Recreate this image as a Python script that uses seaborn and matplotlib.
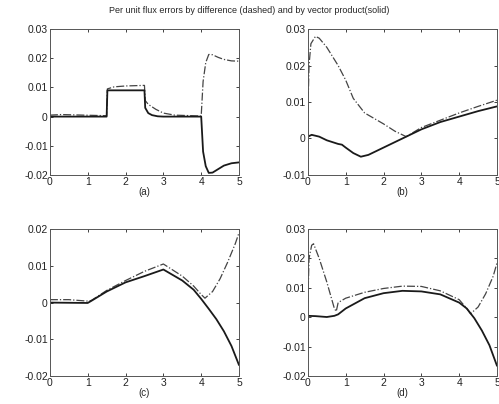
import numpy as np
import pandas as pd
import matplotlib
matplotlib.use("Agg")
import matplotlib.pyplot as plt
import seaborn as sns

# panel (a)
a_x_solid = [0, 1.5, 1.52, 2.5, 2.52, 2.6, 2.7, 2.85, 3.0, 4.0, 4.05, 4.12, 4.2, 4.3, 4.45, 4.6, 4.8, 5.0]
a_y_solid = [0, 0, 0.009, 0.009, 0.003, 0.0012, 0.0005, 0.0001, 0, 0, -0.012, -0.017, -0.0193, -0.0192,
             -0.018, -0.0168, -0.016, -0.0157]
a_x_dash = [0, 0.3, 1.5, 1.52, 1.7, 2.0, 2.5, 2.52, 2.6, 2.8, 3.0, 3.3, 4.0, 4.05, 4.12, 4.2, 4.3, 4.45, 4.6, 4.8, 5.0]
a_y_dash = [0.0005, 0.0007, 0.0003, 0.0095, 0.0102, 0.0105, 0.0107, 0.0055, 0.0042, 0.0025, 0.0012, 0.0005,
            0.0002, 0.012, 0.0185, 0.0213, 0.0212, 0.0203, 0.0196, 0.0191, 0.019]

# panel (b)
b_x_solid = [0, 0.1, 0.3, 0.5, 0.8, 0.9, 1.0, 1.2, 1.4, 1.6, 2.0, 2.5, 3.0, 3.5, 4.0, 4.5, 5.0]
b_y_solid = [0.0005, 0.001, 0.0005, -0.0005, -0.0015, -0.0017, -0.0025, -0.004, -0.005, -0.0045, -0.0025,
             0.0, 0.0025, 0.0045, 0.006, 0.0075, 0.0088]
b_x_dash = [0, 0.03, 0.08, 0.2, 0.3, 0.5, 0.8, 1.0, 1.2, 1.5, 2.0, 2.3, 2.6, 3.0, 3.5, 4.0, 4.5, 5.0]
b_y_dash = [0.007, 0.02, 0.026, 0.028, 0.0275, 0.025, 0.02, 0.016, 0.011, 0.007, 0.004, 0.002, 0.0005,
            0.003, 0.005, 0.007, 0.0088, 0.0105]

# panel (c)
c_x_solid = [0, 1.0, 1.1, 1.5, 2.0, 2.5, 3.0, 3.5, 3.8, 4.0, 4.2, 4.4, 4.6, 4.8, 5.0]
c_y_solid = [0, -0.0001, 0.0005, 0.003, 0.0055, 0.0072, 0.009, 0.006, 0.0035, 0.001, -0.0017, -0.0045,
             -0.0078, -0.0118, -0.017]
c_x_dash = [0, 0.5, 1.0, 1.1, 1.5, 2.0, 2.5, 3.0, 3.5, 3.8, 4.0, 4.1, 4.3, 4.5, 4.7, 4.9, 5.0]
c_y_dash = [0.0008, 0.0008, 0.0004, 0.0006, 0.0033, 0.006, 0.0085, 0.0105, 0.0072, 0.0045, 0.0022, 0.0012,
            0.003, 0.0065, 0.011, 0.016, 0.019]

# panel (d)
d_x_solid = [0, 0.2, 0.5, 0.7, 0.8, 1.0, 1.5, 2.0, 2.5, 3.0, 3.5, 4.0, 4.2, 4.4, 4.6, 4.8, 5.0]
d_y_solid = [0.0005, 0.0004, 0.0001, 0.0005, 0.001, 0.003, 0.0065, 0.0082, 0.009, 0.0088, 0.0078, 0.005,
             0.003, -0.0003, -0.0045, -0.0095, -0.0165]
d_x_dash = [0, 0.03, 0.1, 0.15, 0.3, 0.5, 0.7, 0.75, 0.8, 1.0, 1.5, 2.0, 2.5, 3.0, 3.5, 4.0, 4.2, 4.3, 4.5,
            4.7, 4.9, 5.0]
d_y_dash = [0.005, 0.02, 0.0245, 0.025, 0.02, 0.012, 0.003, 0.002, 0.005, 0.0065, 0.0085, 0.0098, 0.0106,
            0.0105, 0.009, 0.006, 0.003, 0.0012, 0.0035, 0.008, 0.014, 0.0185]

panels = [
    ("(a)", a_x_solid, a_y_solid, a_x_dash, a_y_dash, (-0.02, 0.03), [-0.02, -0.01, 0, 0.01, 0.02, 0.03]),
    ("(b)", b_x_solid, b_y_solid, b_x_dash, b_y_dash, (-0.01, 0.03), [-0.01, 0, 0.01, 0.02, 0.03]),
    ("(c)", c_x_solid, c_y_solid, c_x_dash, c_y_dash, (-0.02, 0.02), [-0.02, -0.01, 0, 0.01, 0.02]),
    ("(d)", d_x_solid, d_y_solid, d_x_dash, d_y_dash, (-0.02, 0.03), [-0.02, -0.01, 0, 0.01, 0.02, 0.03]),
]

sns.set_theme(style="ticks")
plt.rcParams['font.family'] = ['Liberation Sans', 'DejaVu Sans']
plt.rcParams['xtick.direction'] = 'in'
plt.rcParams['ytick.direction'] = 'in'

fig = plt.figure(figsize=(4.99, 4.04), dpi=100)
positions = [
    [0.100, 0.567, 0.379, 0.361],
    [0.617, 0.567, 0.379, 0.361],
    [0.100, 0.069, 0.379, 0.364],
    [0.617, 0.069, 0.379, 0.364],
]

def fmt(v):
    if v == 0:
        return "0"
    return f"{v:.2f}"

for pos, (lab, xs, ys, xd, yd, ylim, yticks) in zip(positions, panels):
    ax = fig.add_axes(pos)
    sns.lineplot(x=xd, y=yd, ax=ax, color="#444444", lw=0.9, linestyle="-.", sort=False)
    sns.lineplot(x=xs, y=ys, ax=ax, color="#1a1a1a", lw=1.3, sort=False)
    ax.set_xlim(0, 5)
    ax.set_ylim(*ylim)
    ax.set_xticks([0, 1, 2, 3, 4, 5])
    ax.set_yticks(yticks)
    ax.set_yticklabels([fmt(v) for v in yticks])
    ax.tick_params(labelsize=7.5, length=2.5, width=0.6, pad=1.5, top=True, right=True, colors="#222222")
    for s in ax.spines.values():
        s.set_linewidth(0.7)
        s.set_color("#555555")
    ax.set_xlabel(lab, fontsize=7, labelpad=0)

fig.text(0.5, 0.975, "Per unit flux errors by difference (dashed) and by vector product(solid)",
         ha="center", va="center", fontsize=6.5)

fig.savefig("out.png", dpi=100)
